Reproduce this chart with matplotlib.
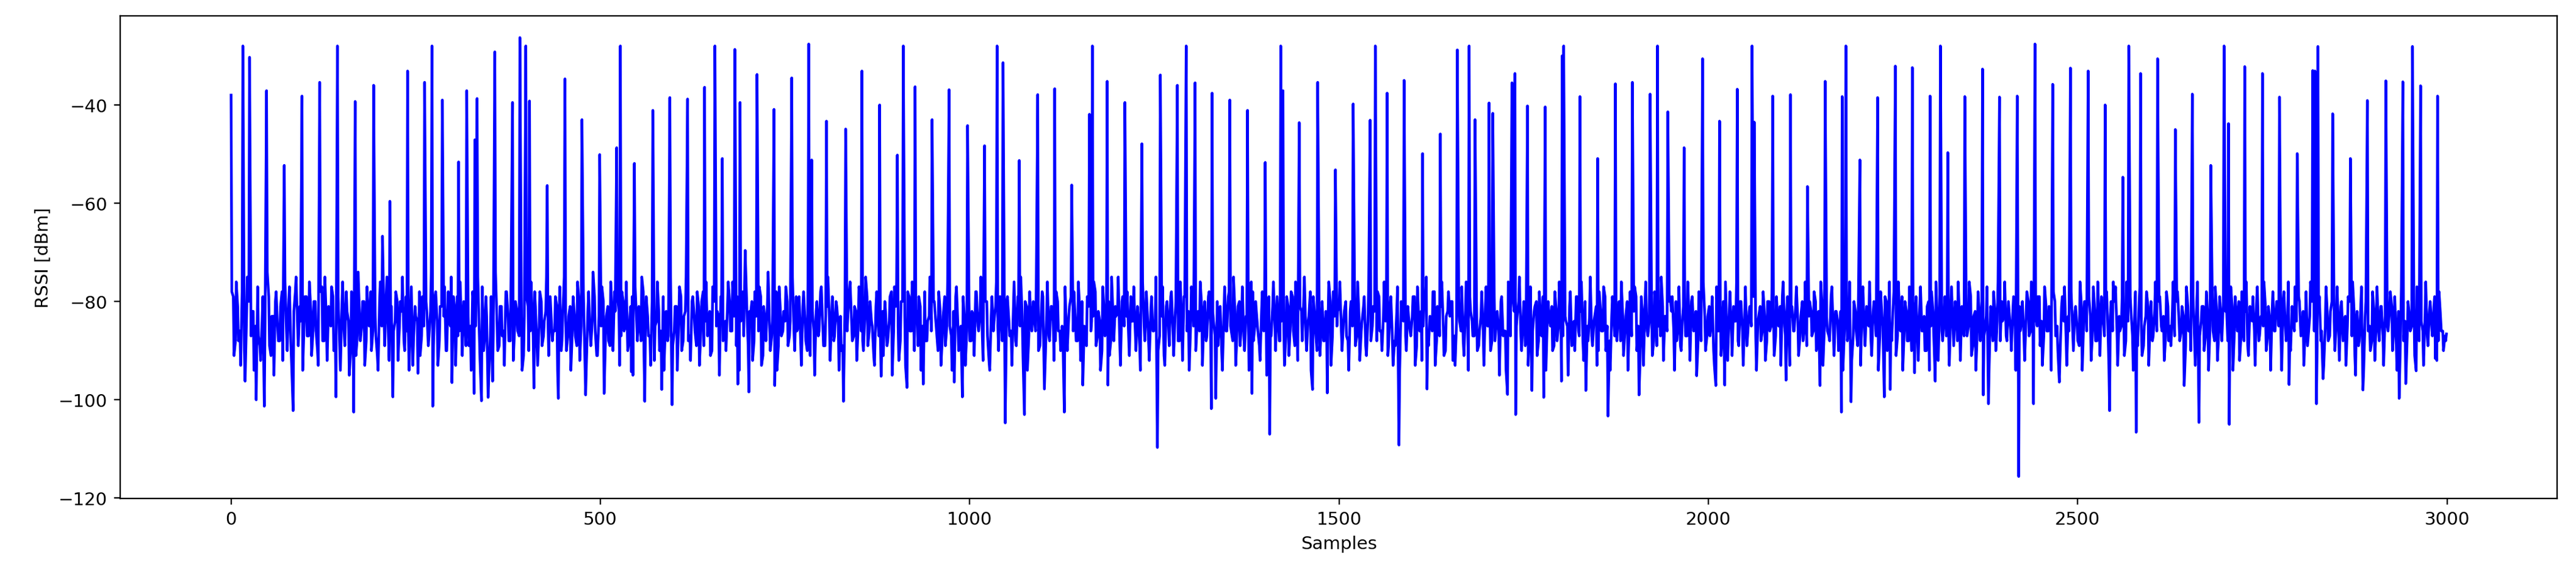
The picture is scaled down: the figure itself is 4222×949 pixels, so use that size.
import matplotlib.pyplot as plt

# spikes (sample index, RSSI)
spike_idx = [0, 16, 25, 48, 72, 96, 120, 144, 168, 193, 205, 215, 239, 262, 272, 286, 308, 319, 330, 333,
             357, 381, 391, 399, 404, 428, 452, 475, 499,
             522, 527, 546, 571, 594, 618, 641, 655, 665, 682, 689, 696, 712, 735, 759, 782, 786, 806, 832,
             854, 878, 902, 910, 926, 949, 972, 997, 1020, 1037, 1045, 1067,
             1092, 1115, 1138, 1162, 1166, 1186, 1210, 1233, 1258, 1281, 1293, 1305, 1328, 1352, 1376, 1400,
             1421, 1424, 1446, 1471, 1495, 1519, 1542, 1549, 1565, 1588, 1613, 1637, 1660,
             1676, 1684, 1703, 1708, 1734, 1738, 1755, 1779, 1802, 1804, 1826, 1850, 1874, 1897, 1921, 1931,
             1945, 1967, 1992, 2015, 2039, 2059, 2062, 2087, 2111, 2134, 2158, 2181, 2186, 2205, 2229,
             2253, 2276, 2300, 2314, 2324, 2347, 2371, 2394, 2418, 2442, 2466, 2490, 2514, 2537, 2561, 2569,
             2585, 2608, 2632, 2655, 2680, 2698, 2704, 2726, 2750, 2773, 2797, 2818,
             2821, 2825, 2845, 2869, 2892, 2917, 2940, 2953, 2964, 2987]
spike_val = [-38, -28, -30.3, -37.1, -52.3, -38.2, -35.4, -28, -39.3, -36, -66.7, -59.6, -33.1, -35.4, -28,
             -39, -51.6, -37.1, -47.1, -38.7, -29.2, -39.5, -26.3, -28, -39.2, -56.4, -34.7, -43, -50.1,
             -48.7, -28, -51.9, -41.1, -38.5, -38.8, -36.4, -28, -50.9, -28.7, -39.5, -69.6, -33.8, -40.9,
             -34.5, -27.6, -51.2, -43.3, -44.9, -33.1, -40, -50.2, -28, -36.3, -43, -36.9, -44.2, -48.3,
             -28, -31.4, -51.3,
             -37.9, -36.7, -56.3, -41.9, -28, -35.2, -39.5, -47.9, -33.9, -36, -28, -35.5, -37.6, -39,
             -41.1, -51.7, -28, -37.1, -43.6, -35.4, -53.2, -39.8, -43.1, -28, -37.6, -35, -49.9, -45.9,
             -28.8,
             -28, -43, -39.6, -41.7, -35.5, -33.6, -40.2, -40.4, -30, -28, -38.3, -50.9, -35.7, -35.4,
             -37.8, -28, -41.4, -48.7, -30.6, -43.3, -36.8, -28, -43.5, -38.2, -37.9, -56.6, -35.2, -38.3,
             -28, -51.2, -38.5,
             -32.1, -32.4, -38.2, -28, -49.7, -38.3, -32.7, -38.4, -38.2, -27.6, -35.8, -32.5, -33.1, -40,
             -54.7, -28, -33.6, -30.6, -45, -37.8, -52.3, -28, -43.8, -32.2, -33.6, -38.4, -49.9, -33,
             -33.1, -28.1, -41.8, -50.9, -39.1, -35.1, -35.3, -28.1, -36.1, -38.2]

# deep dips (sample index, RSSI)
dip_idx = [19, 34, 45, 84, 142, 166, 219, 253, 273, 299, 329, 339, 348, 354, 410, 443, 480, 505,
           542, 560, 583, 597, 686, 701, 736, 829, 880, 915, 937, 979, 990, 1048, 1074,
           1101, 1128, 1153, 1187, 1254, 1327, 1333, 1382, 1406, 1464, 1471, 1484, 1581, 1619, 1657,
           1728, 1739, 1761, 1777, 1801, 1834, 1864, 1906, 1984, 2010, 2022, 2105, 2151, 2180, 2193, 2238,
           2246, 2279, 2307, 2372, 2379, 2420, 2440, 2475, 2543, 2579, 2644, 2664, 2680, 2705, 2786,
           2823, 2832, 2876, 2886, 2935, 2944, 2958, 2984, 2999]
dip_val = [-96.2, -100, -101.3, -102.2, -99.4, -102.5, -99.4, -94.6, -101.3, -96.5, -98.7, -100.2, -99.5,
           -96.2, -97.6, -99.7, -99, -98.7,
           -94.3, -100.3, -97.9, -101, -96.8, -98.4, -97.1, -100.3, -95.2, -97.5, -96.8, -96.4, -99.4,
           -104.7, -103,
           -97.8, -102.5, -97, -97, -109.7, -101.8, -99.7, -98.7, -107, -97.9, -100.2, -98.6, -109.2,
           -97.8, -93,
           -98.9, -103, -98.1, -99.5, -96.2, -98.1, -103.3, -99, -95.1, -97.1, -97, -96, -97.1, -102.5,
           -100.4, -99.4,
           -97.9, -94.5, -96.2, -99, -100.8, -115.6, -100.8, -96.4, -102.2, -106.6, -97.1, -104.6,
           -102.2, -105, -96.9,
           -100.8, -95.7, -95, -98, -99.7, -96.7, -94.1, -91.6, -86.6]

# background noise, one value every 3 samples (|dBm|)
noise_step = 3
noise_txt = """
84 79 88 81 86 78 90 83 80 87 82 85 77 89 84 81 86 79 91 83 80 85 88 78 82
86 80 89 83 78 85 81 92 84 79 87 82 86 80 90 83 77 88 84 81 85 79 87 82 89
81 86 78 84 90 82 79 87 83 85 80 88 84 78 86 82 91 80 85 83 79 87 81 89 84
80 85 82 88 79 86 83 93 81 84 78 87 85 80 89 82 86 79 84 88 81 83 90 78 85
87 82 79 86 84 80 89 83 85 78 88 81 86 82 90 79 84 87 83 80 85 89 81 86 78
83 88 80 85 82 87 79 91 84 81 86 83 78 89 85 80 87 82 84 79 88 86 81 83 90
79 84 87 81 86 83 89 80 85 78 88 82 86 84 79 91 83 85 80 87 81 89 84 78 86
82 87 80 85 90 83 79 86 84 81 88 78 85 83 87 80 92 84 82 86 79 85 88 81 83
86 81 84 79 88 82 85 87 80 83 89 81 86 78 84 87 82 90 80 85 83 79 88 84 81
80 86 83 89 81 84 78 87 85 82 80 88 83 86 79 91 84 81 85 87 82 78 89 83 86
84 80 87 82 86 79 85 88 81 84 90 83 80 86 82 87 78 85 89 81 84 83 88 80 85
83 89 81 86 78 84 87 82 85 80 88 83 79 86 84 91 81 85 87 82 80 89 84 78 86
81 85 88 80 83 87 79 86 84 82 89 81 85 78 88 83 86 80 84 90 82 87 79 85 83
87 82 79 85 89 81 84 86 80 88 83 78 85 82 87 84 80 92 83 86 81 85 79 88 84
80 84 86 82 88 79 85 83 90 81 87 84 80 86 82 89 78 85 83 87 81 84 88 80 86
85 81 87 83 79 86 84 88 82 80 85 89 81 86 83 78 87 84 90 82 85 80 88 83 81
82 88 80 85 83 87 79 84 86 81 89 83 85 78 88 82 86 84 80 87 83 91 81 85 79
86 83 81 88 84 79 87 82 85 80 89 84 86 81 83 88 79 85 82 87 80 84 90 83 86
79 85 88 82 86 80 84 87 83 81 88 78 85 84 89 82 86 80 83 87 81 85 79 88 84
84 87 81 85 79 89 83 86 82 80 87 84 78 86 83 90 81 85 88 82 84 80 87 83 85
81 86 84 80 88 82 85 79 87 83 86 81 89 84 80 85 82 88 79 86 83 84 91 81 87
88 82 85 80 84 87 81 86 83 79 89 84 82 85 80 87 83 86 78 88 84 81 85 90 82
83 80 87 84 81 86 88 82 85 79 84 87 80 89 83 86 81 85 82 88 79 84 86 80 87
86 84 79 88 82 85 80 87 83 89 81 84 86 82 80 88 85 79 87 83 84 81 89 82 85
80 87 83 85 81 89 84 79 86 82 88 80 85 83 87 84 81 90 82 86 79 85 88 83 84
85 81 88 83 86 80 84 87 82 79 85 89 83 81 86 84 80 88 82 85 87 81 83 86 80
82 86 80 85 89 83 81 87 84 80 86 82 88 79 85 83 87 81 84 90 82 86 80 85 88
87 83 85 81 84 88 80 86 83 89 82 85 79 87 84 81 86 83 88 80 85 82 87 84 81
79 85 82 88 83 86 81 84 87 80 85 89 83 82 86 80 88 84 81 85 83 87 79 86 82
84 88 81 86 80 85 83 87 82 89 84 80 86 81 85 88 82 84 79 87 83 86 80 89 85
81 84 87 83 79 86 82 88 85 80 84 87 81 86 83 90 80 85 82 88 84 81 86 83 87
86 82 85 80 88 84 81 87 83 85 79 89 82 86 84 80 87 83 85 81 88 82 84 86 80
83 87 80 86 82 85 89 81 84 87 83 80 86 82 88 85 79 84 87 81 86 83 89 80 85
88 81 84 87 83 80 86 82 85 89 81 84 80 87 83 86 82 88 84 79 85 81 87 83 86
80 86 83 85 81 88 84 79 87 82 86 80 85 89 83 81 84 88 82 86 80 85 83 87 81
85 82 87 80 84 86 83 89 81 85 82 88 80 86 84 81 87 83 85 79 88 82 86 84 80
82 88 84 81 86 83 80 87 85 82 89 81 84 86 80 88 83 85 81 87 84 82 86 80 85
87 80 85 83 88 81 86 84 79 87 82 85 89 83 80 86 84 81 88 82 85 83 87 80 84
84 86 81 88 83 85 80 87 82 84 89 81 86 83 80 85 88 82 84 86 81 87 83 85 82
81 85 88 82 86 80 84 87 83 85 81 88 84 80 86 83 87 82 85 81 84 88 83 86 87
"""
noise_val = [-float(v) for v in noise_txt.split()]

# second layer of noise, at the samples in between (one every 3, offset 1)
noise2_txt = """
78 91 76 88 93 80 86 75 90 82 94 77 87 92 79 85 74 89 83 95 78 88 81 92 76
90 77 93 82 75 89 84 94 79 87 76 91 80 86 93 78 88 75 92 83 77 90 85 79 94
76 89 82 95 78 86 91 74 88 80 93 77 85 90 79 87 94 76 83 89 75 92 81 86 78
92 80 75 90 86 94 77 88 83 76 91 79 95 82 87 74 89 78 93 81 86 77 90 84 75
79 93 87 76 91 82 78 89 94 80 85 75 92 77 88 83 95 79 86 74 90 81 87 93 78
88 75 92 80 86 77 94 83 79 90 76 87 81 93 78 89 84 75 91 82 86 79 94 77 88
75 90 83 94 79 87 76 92 80 85 93 78 89 74 86 91 80 77 95 83 88 76 90 82 79
93 78 86 76 89 81 95 77 88 84 75 91 79 87 93 80 85 76 90 78 94 82 87 75 89
81 94 77 90 83 75 88 92 79 86 78 93 80 89 76 85 91 77 88 82 95 79 86 90 76
86 76 91 79 94 80 87 75 89 83 92 78 86 77 93 81 88 74 90 84 79 94 77 87 82
77 89 84 75 90 86 79 93 78 88 76 91 82 95 80 86 77 89 83 75 92 79 87 81 94
90 79 94 83 76 88 81 92 77 86 90 75 89 80 85 93 78 87 76 91 82 88 79 95 77
76 92 80 87 93 78 86 76 90 82 79 94 77 88 84 75 91 80 86 78 93 83 89 76 85
94 81 77 90 85 79 93 76 88 82 91 78 86 75 92 80 87 94 79 84 76 90 81 88 77
79 87 93 76 89 82 75 91 80 94 78 86 83 77 90 85 79 93 76 88 81 92 78 86 90
87 77 90 81 95 78 88 76 92 80 86 79 93 84 76 89 82 94 77 87 80 91 75 88 83
75 93 79 86 78 91 84 77 90 83 94 76 88 81 92 79 86 75 90 82 77 93 80 89 78
91 80 88 76 92 79 86 94 77 85 90 82 76 93 80 87 78 91 84 75 89 81 94 77 86
78 86 75 93 81 89 77 90 84 94 76 88 80 86 92 78 83 95 79 87 76 90 82 88 75
93 79 91 78 86 76 92 81 88 75 90 83 94 79 86 77 91 80 88 84 76 93 78 87 82
76 90 82 87 94 80 78 89 76 92 84 79 91 77 88 81 95 78 86 90 76 83 89 79 93
89 77 94 81 76 90 83 87 79 93 77 86 92 80 75 89 84 78 93 81 87 76 91 83 78
80 92 78 88 84 77 91 76 94 82 87 79 90 86 78 93 77 85 90 76 88 82 95 79 86
94 76 87 79 92 83 75 90 80 88 93 77 86 81 91 78 87 76 94 80 85 90 78 88 76
77 91 84 95 78 86 90 79 87 76 92 81 88 75 89 83 93 78 86 77 90 82 94 79 87
88 80 76 91 83 94 78 89 77 90 84 79 93 76 87 81 91 78 89 80 75 92 83 86 79
79 94 88 77 90 81 87 76 92 79 85 94 78 88 76 90 83 87 79 93 77 86 91 80 76
92 78 91 84 76 89 80 93 77 87 81 90 76 94 83 88 78 92 80 86 77 91 79 85 93
76 87 79 93 81 86 77 91 83 88 76 94 80 87 78 90 82 76 93 79 86 88 77 91 82
90 82 94 78 88 76 92 80 86 79 93 77 89 84 76 91 80 87 94 78 85 79 90 76 88
78 91 76 86 94 80 88 77 90 83 79 92 77 86 90 81 94 78 87 76 92 80 88 79 86
93 77 89 81 76 92 84 79 87 76 91 83 94 78 88 80 86 77 93 82 78 90 76 88 84
76 88 82 90 79 94 77 86 80 92 78 87 76 91 83 79 89 93 77 86 81 94 78 87 90
91 79 77 93 86 78 90 81 88 76 94 80 86 79 92 77 88 76 91 82 87 78 93 80 76
77 93 86 79 91 76 87 82 94 78 89 77 91 85 78 93 80 87 76 90 79 86 92 78 88
89 76 92 78 88 81 94 77 86 90 79 93 76 87 81 90 78 94 80 86 77 92 79 88 76
80 90 77 94 79 86 92 78 88 76 91 83 79 93 77 87 84 76 90 81 94 78 86 80 92
94 78 88 76 90 83 77 91 80 86 93 78 87 76 92 80 89 79 86 93 77 88 82 76 90
77 92 80 87 93 79 86 76 91 82 88 77 94 80 86 90 78 92 77 88 81 93 79 86 78
90 79 94 81 77 88 92 80 86 78 91 77 88 84 93 76 89 80 87 79 92 78 86 90 88
"""
noise2_val = [-float(v) for v in noise2_txt.split()]

# merge everything into one trace
trace = {i * noise_step: v for i, v in enumerate(noise_val)}
trace.update({i * noise_step + 1: v for i, v in enumerate(noise2_val)})
trace.update(zip(dip_idx, dip_val))
trace.update(zip(spike_idx, spike_val))
samples = sorted(trace)
rssi = [trace[s] for s in samples]

fig = plt.figure(figsize=(20, 4.5), dpi=211.1)
ax = fig.add_axes([0.0467, 0.139, 0.946, 0.833])
ax.plot(samples, rssi, color='blue')
ax.set_xlabel('Samples')
ax.set_ylabel('RSSI [dBm]')
fig.savefig('out.png', dpi=211.1)
